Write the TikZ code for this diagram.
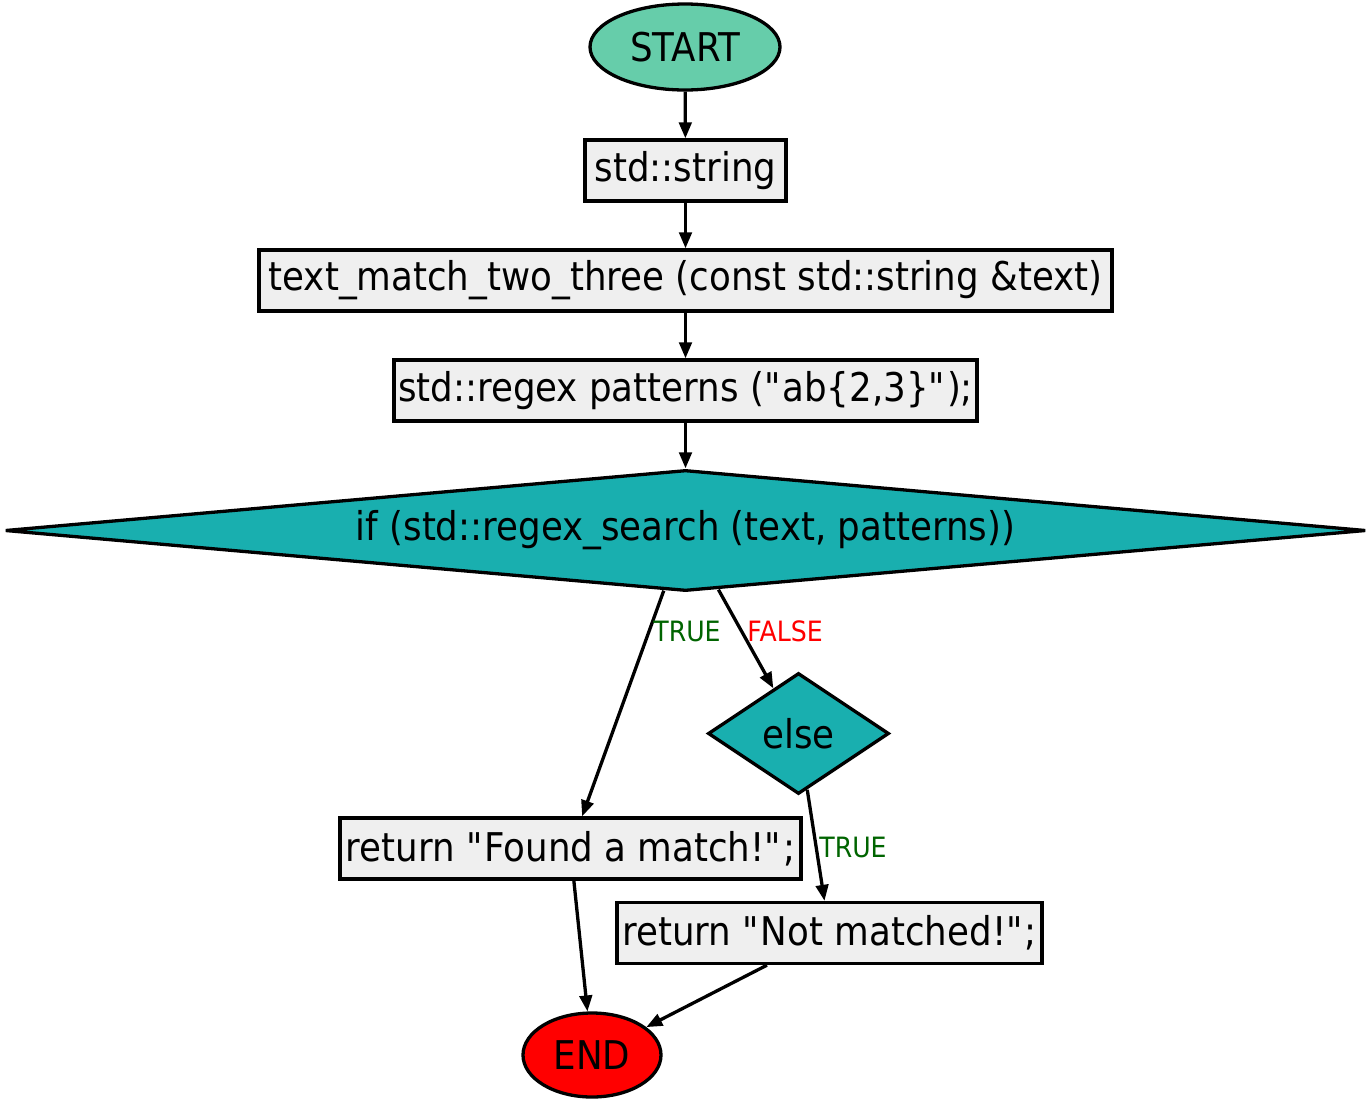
\documentclass[tikz,border=0pt]{standalone}
\usepackage{fontspec}
\setmainfont{DejaVu Sans}[FakeStretch=0.9]
\usetikzlibrary{shapes.geometric,arrows.meta}
\definecolor{startc}{HTML}{66CDAA}
\definecolor{boxc}{HTML}{EFEFEF}
\definecolor{diac}{HTML}{19AFAF}
\definecolor{truec}{HTML}{006400}
\definecolor{falsec}{HTML}{FF0000}
\newcommand{\dq}{\textquotedbl}
\tikzset{
  base/.style={draw=black, line width=3.3pt, inner sep=0pt, font=\fontsize{39.6}{44}\selectfont},
  procbox/.style={base, rectangle, fill=boxc, minimum height=61pt},
  oval/.style={base, ellipse},
  decide/.style={base, diamond, fill=diac},
  conn/.style={line width=3.3pt, -{Triangle[length=16pt,width=12.5pt]}},
  elabel/.style={inner sep=0pt, font=\fontsize{28}{32}\selectfont},
}
\begin{document}
\begin{tikzpicture}[x=1pt,y=-1pt]
\useasboundingbox (0,0) rectangle (1371,1104);
\node[oval, fill=startc, minimum width=190pt, minimum height=86pt] (start) at (685,47) {START};
\node[procbox, minimum width=201pt] (str) at (685.5,170.5) {std::string};
\node[procbox, minimum width=853pt] (tm) at (685.5,280.5) {text\_match\_two\_three (const std::string \&text)};
\node[procbox, minimum width=583pt] (rx) at (685.5,390.5) {std::regex patterns (\dq ab\{2,3\}\dq);};
\node[decide, aspect=11.25, minimum width=1361pt, minimum height=121pt] (if) at (685.5,530.5) {if (std::regex\_search (text, patterns))};
\node[decide, aspect=1.5, minimum width=181pt, minimum height=121pt] (else) at (798.5,733.5) {else};
\node[procbox, minimum width=461pt] (found) at (570.5,848.5) {return \dq Found a match!\dq;};
\node[procbox, minimum width=425pt] (notm) at (829.5,933) {return \dq Not matched!\dq;};
\node[oval, fill=red, minimum width=138pt, minimum height=84pt] (end) at (592,1055) {END};
\draw[conn] (start) -- (str);
\draw[conn] (str) -- (tm);
\draw[conn] (tm) -- (rx);
\draw[conn] (rx) -- (if);
\draw[conn] (if) -- (found);
\draw[conn] (if) -- (else);
\draw[conn] (else) -- (notm);
\draw[conn] (found) -- (end);
\draw[conn] (notm) -- (end);
\node[elabel, text=truec] (l1) at (687,631) {TRUE};
\node[elabel, text=falsec] (l2) at (785,631) {FALSE};
\node[elabel, text=truec] (l3) at (853,847) {TRUE};
\end{tikzpicture}
\end{document}
